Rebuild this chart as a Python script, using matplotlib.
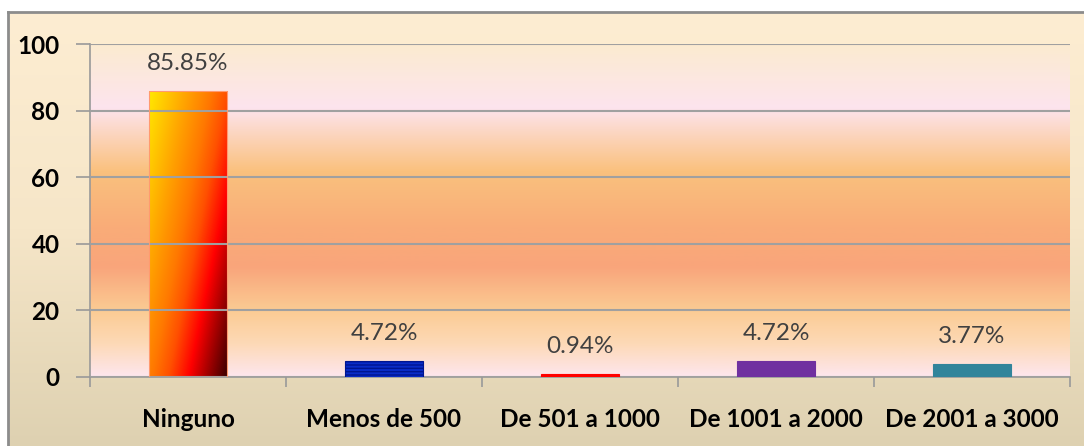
import numpy as np
import matplotlib
matplotlib.use("Agg")
import matplotlib.pyplot as plt
from matplotlib.colors import LinearSegmentedColormap

categorias = ["Ninguno", "Menos de 500", "De 501 a 1000", "De 1001 a 2000", "De 2001 a 3000"]
valores = [85.85, 4.72, 0.94, 4.72, 3.77]
etiquetas = ["85.85%", "4.72%", "0.94%", "4.72%", "3.77%"]
colores = [None, "#0A2CC8", "#FF0000", "#7030A0", "#31849B"]

plt.rcParams['font.family'] = ['Lato', 'DejaVu Sans']

fig = plt.figure(figsize=(10.84, 4.46), dpi=100, facecolor="white")

# fondo del grafico (degradado crema -> beige) con marco gris
bg = fig.add_axes([8/1084, 0, 1 - 8/1084, (446 - 12)/446], zorder=0)
grad_bg = LinearSegmentedColormap.from_list("bg", ["#DED1B1", "#F6E6C8", "#FDEDD2"])
bg.imshow(np.linspace(0, 1, 256).reshape(-1, 1), cmap=grad_bg, aspect="auto",
          extent=[0, 1, 0, 1], origin="lower")
bg.set_xticks([])
bg.set_yticks([])
for s in ["right", "bottom"]:
    bg.spines[s].set_visible(False)
for s in ["left", "top"]:
    bg.spines[s].set_color("#8C8C8C")
    bg.spines[s].set_linewidth(2)

ax = fig.add_axes([90/1084, 69/446, 980/1084, 333/446], zorder=1)
ax.set_xlim(-0.5, 4.5)
ax.set_ylim(0, 100)

# fondo del area de trazado
stops = [(0.0, "#FDE6EE"), (0.10, "#FDD9B6"), (0.20, "#FBCB93"), (0.33, "#F9A57B"),
         (0.45, "#F9AC78"), (0.62, "#FAC17E"), (0.81, "#FDE4EE"), (1.0, "#FBEBD0")]
grad_pa = LinearSegmentedColormap.from_list("pa", stops)
ax.imshow(np.linspace(0, 1, 256).reshape(-1, 1), cmap=grad_pa, aspect="auto",
          extent=[-0.5, 4.5, 0, 100], origin="lower", zorder=0)

ancho = 0.40
x = np.arange(len(categorias))
barras = ax.bar(x, valores, width=ancho, zorder=3, linewidth=0.8)

# barra Ninguno con degradado diagonal
grad_bar = LinearSegmentedColormap.from_list(
    "fuego", [(0.0, "#FFE800"), (0.25, "#FFA800"), (0.45, "#FF7800"),
              (0.57, "#FF5000"), (0.72, "#FF0000"), (1.0, "#3A0000")])
u, v = np.meshgrid(np.linspace(0, 1, 80), np.linspace(0, 1, 290))
t = 0.568 * u + 0.432 * v
b0 = barras[0]
b0.set_facecolor("none")
b0.set_edgecolor("#FF9A70")
im = ax.imshow(t, cmap=grad_bar, aspect="auto", origin="upper", zorder=2.5,
               extent=[x[0] - ancho/2, x[0] + ancho/2, 0, valores[0]])
im.set_clip_path(b0)

for b, c in zip(barras[1:], colores[1:]):
    b.set_facecolor(c)
    b.set_edgecolor(c)
plt.rcParams['hatch.linewidth'] = 1.2
barras[1].set_hatch("-----")
barras[1].set_edgecolor("#001590")

for xi, val, txt in zip(x, valores, etiquetas):
    ax.annotate(txt, (xi, val), xytext=(0, 20), textcoords="offset points",
                ha="center", va="center", fontsize=17.5, color="#404040", zorder=4)

ax.set_yticks(range(0, 101, 20))
ax.yaxis.grid(True, color="#A0A0A0", linewidth=1.5, zorder=1)
ax.set_axisbelow(False)
ax.set_xticks(x)
ax.set_xticklabels(categorias, fontweight="bold", fontsize=17.5)
ax.set_xticks(np.arange(-0.5, 5, 1), minor=True)
ax.tick_params(axis="x", which="major", length=0, pad=22)
ax.tick_params(axis="x", which="minor", length=7, width=1.2, color="#999999", direction="out")
ax.tick_params(axis="y", length=10, width=1.2, color="#999999", pad=12, labelsize=17.5)
for lab in ax.get_yticklabels():
    lab.set_fontweight("bold")
for s in ["top", "right"]:
    ax.spines[s].set_visible(False)
for s in ["left", "bottom"]:
    ax.spines[s].set_color("#999999")
    ax.spines[s].set_linewidth(1.2)

fig.savefig("out.png", dpi=100)
